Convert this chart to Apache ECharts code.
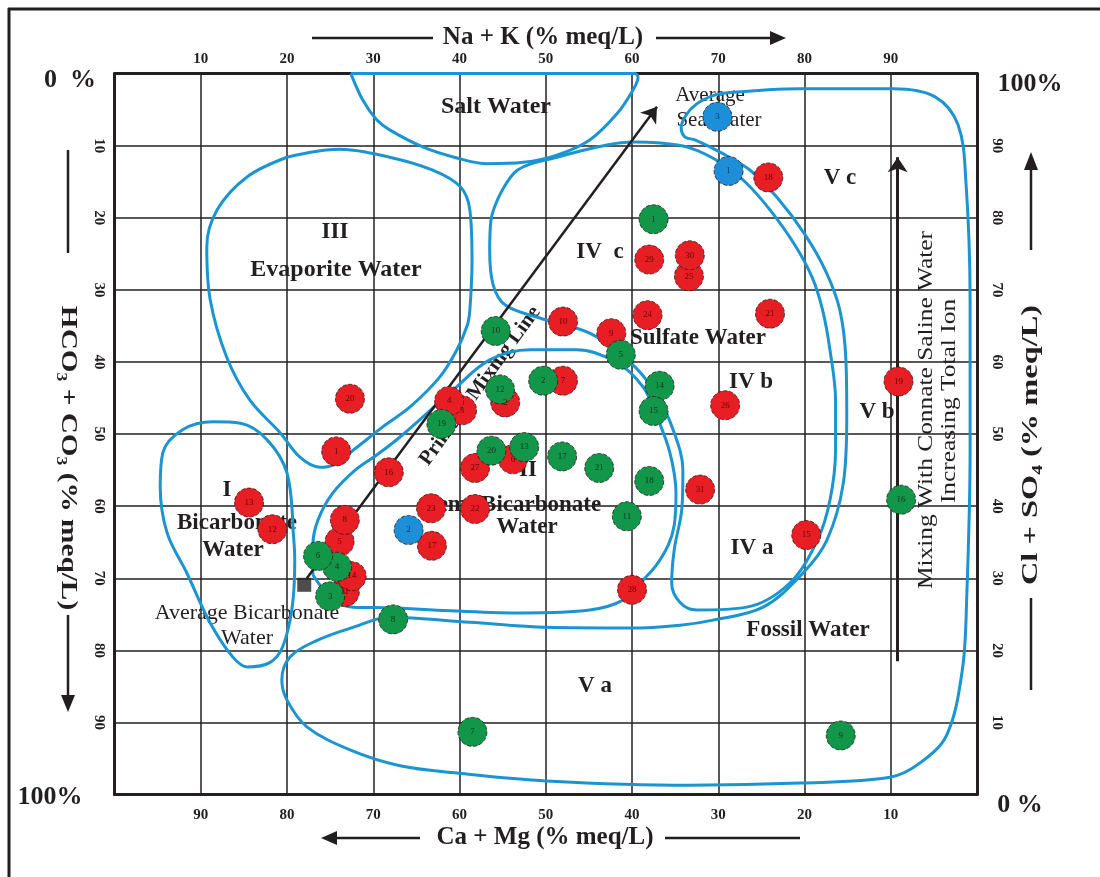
<!DOCTYPE html>
<html><head><meta charset="utf-8">
<script src="https://cdn.jsdelivr.net/npm/echarts@6/dist/echarts.min.js"></script>
<style>html,body{margin:0;padding:0;background:#fff}#c{width:1100px;height:877px}</style>
</head><body><div id="c"></div>
<script>
// ---------- tick labels ----------
const naKTicks = [10,20,30,40,50,60,70,80,90];       // top axis (Na+K)
const caMgTicks = [90,80,70,60,50,40,30,20,10];      // bottom axis (Ca+Mg = 100 - Na+K)
const hco3Ticks = [10,20,30,40,50,60,70,80,90];      // left axis (HCO3+CO3)
const clso4Ticks = [90,80,70,60,50,40,30,20,10];     // right axis (Cl+SO4)

// ---------- samples: [Na+K %, HCO3+CO3 %, sample no.] ----------
const redSamples = [
 [25.7,52.4,1],[45.3,45.6,2],[40.3,46.7,3],[38.8,45.4,4],[26.1,64.9,5],[46.2,53.5,6],
 [52.0,42.6,7],[26.7,61.9,8],[57.6,36.0,9],[52.0,34.4,10],[26.7,71.9,11],[18.3,63.2,12],
 [15.6,59.5,13],[27.5,69.7,14],[80.2,64.0,15],[31.8,55.3,16],[36.8,65.5,17],[75.8,14.4,18],
 [90.9,42.7,19],[27.3,45.1,20],[76.0,33.3,21],[41.8,60.4,22],[36.7,60.3,23],[61.8,33.5,24],
 [66.6,28.1,25],[70.8,46.0,26],[41.8,54.7,27],[60.0,71.6,28],[62.0,25.8,29],[66.7,25.2,30],
 [67.9,57.7,31]
];
const greenSamples = [
 [62.5,20.2,1],[49.7,42.6,2],[25.0,72.5,3],[25.8,68.4,4],[58.7,39.0,5],[23.6,66.9,6],
 [41.5,91.3,7],[32.3,75.7,8],[84.2,91.8,9],[44.2,35.7,10],[59.4,61.4,11],[44.7,43.8,12],
 [47.5,51.8,13],[63.2,43.3,14],[62.5,46.8,15],[91.2,59.1,16],[51.9,53.1,17],[62.0,56.5,18],
 [37.9,48.6,19],[43.7,52.3,20],[56.2,54.7,21]
];
const blueSamples = [[71.2,13.5,1],[34.1,63.3,2],[69.9,6.0,3]];
const avgBicarbonate = [[22.0,70.9]];
const mixingLine = [[22.3,70.0],[62.9,4.6]];
const connateArrow = [[90.8,81.5],[90.8,11.6]];

// ---------- region boundaries (data space) ----------
const saltWater = [[27.4,0],[28.8,3.7],[30.4,6.4],[31.9,7.8],[35.8,10.2],[39.7,11.7],[43.2,12.5],[47.4,12.3],[51.3,11.3],[55.1,9.2],[58.3,5.5],[60.1,2.3],[60.7,0.5],[60.35,0],[44,0],[27.4,0]];
const evaporiteIII = [[20.0,11.6],[26.1,10.5],[31.9,11.6],[36.9,13.4],[40.1,15.7],[41.2,18.9],[41.45,25.9],[41.2,32.8],[40.9,34.9],[39.7,38.3],[37.7,42.1],[34.3,46.2],[31.1,49.0],[27.7,52.2],[25.3,54.3],[23.8,54.6],[21.5,53.2],[19.2,49.8],[15.7,45.3],[13.0,39.3],[11.1,31.4],[10.7,24.1],[11.9,18.9],[15.4,14.3],[20.0,11.6]];
const bicarbonateI = [[20.7,63.3],[20.0,55.4],[17.7,50.8],[14.6,48.5],[11.4,48.3],[7.9,49.4],[5.6,52.6],[5.3,57.3],[6.1,63.7],[8.4,69.3],[11.1,76.2],[13.7,80.9],[15.4,82.3],[18.0,81.7],[19.5,79.5],[20.6,74.0],[20.9,67.5],[20.7,63.3]];
const semiBicarbII = [[23.0,69.5],[23.0,65.4],[23.6,61.9],[25.3,58.2],[27.9,55.0],[30.4,52.9],[33.1,50.4],[39.25,43.9],[43.5,39.7],[48.2,38.3],[53.6,38.3],[58.3,40.1],[61.3,43.5],[62.9,47.6],[64.4,52.6],[65.1,58.2],[64.9,62.6],[64.2,65.4],[62.8,68.2],[61.3,70.2],[59.0,73.0],[55.1,74.4],[47.4,74.8],[38.9,74.5],[31.9,74.1],[27.7,74.0],[25.3,73.0],[23.8,70.9],[23.0,69.5]];
const sulfateIV = [[44.4,17.5],[46.7,13.4],[51.3,11.6],[57.1,9.9],[60.2,9.5],[62.9,9.6],[66.7,10.3],[70.2,12.3],[73.1,15.0],[76.0,18.9],[78.9,23.8],[80.9,28.3],[82.1,32.8],[82.95,38.3],[83.6,45.3],[83.6,52.2],[82.96,59.1],[81.5,64.7],[78.3,70.65],[73.3,74.0],[67.5,74.4],[65.6,73.4],[64.6,70.7],[64.9,66.0],[65.8,60.1],[65.9,55.0],[64.8,49.5],[62.6,44.0],[59.4,39.6],[55.1,36.0],[49.3,33.9],[45.3,32.1],[43.9,29.3],[43.5,24.5],[43.65,20.3],[44.4,17.5]];
const fossilV = [[70.8,2.7],[79.5,2.1],[90.3,2.1],[95.1,3.2],[97.8,7.1],[98.7,14.7],[99.2,31.4],[99.2,52.2],[98.8,73.0],[98.3,82.7],[96.5,91.7],[93.4,95.6],[89.9,97.6],[79.5,98.4],[66.7,98.7],[50.1,98.1],[39.7,97.0],[33.1,96.0],[27.3,93.8],[22.3,90.6],[20.0,86.9],[19.4,84.1],[20.35,80.9],[23.5,78.6],[27.65,76.8],[31.9,75.4],[41.2,76.1],[50.1,76.8],[59.8,76.9],[65.6,76.5],[69.4,75.8],[75.2,74.0],[79.8,69.3],[82.6,64.7],[84.5,56.8],[84.9,47.6],[84.8,39.7],[84.1,32.8],[82.5,27.5],[80.1,22.4],[76.9,17.3],[73.7,13.4],[70.2,10.9],[67.3,9.2],[66.15,8.8],[65.7,7.5],[66.3,5.7],[67.5,4.2],[69.3,3.1],[70.8,2.7]];

const INK = '#231f20', BLUE = '#1b94d2';
const SERIF = '"Liberation Serif","Times New Roman",serif';

const chart = echarts.init(document.getElementById('c'), null, {renderer:'canvas'});

function contour(name, data){
  return {name, type:'line', data, xAxisIndex:0, yAxisIndex:0, smooth:0.35, showSymbol:false, symbol:'none',
    lineStyle:{color:BLUE, width:3}, z:3, silent:true, clip:false};
}
function samples(name, data, color, txt){
  return {name, type:'scatter', data, xAxisIndex:0, yAxisIndex:0, symbol:'circle', symbolSize:29, z:6,
    itemStyle:{color, borderColor:'rgba(40,20,20,0.75)', borderWidth:1, borderType:'dashed', opacity:1},
    label:{show:true, position:'inside', formatter:p=>String(p.data[2]), fontSize:9, fontFamily:SERIF, color:txt}};
}
const tickLabel = (arr)=> (v)=> arr.includes(Math.round(v)) ? String(Math.round(v)) : '';
const lblStyle = {color:INK, fontFamily:SERIF, fontWeight:'bold', fontSize:15};

function T(x,y,text,font,rot,sx){
  return {type:'text', x, y, rotation:rot||0, scaleX:sx||1, scaleY:1, z:1,
    style:{text, font:font||('bold 23px '+SERIF), fill:INK, textAlign:'center', textVerticalAlign:'middle', align:'center', verticalAlign:'middle'}};
}
function L(x1,y1,x2,y2,w){ return {type:'line', shape:{x1,y1,x2,y2}, style:{stroke:INK, lineWidth:w||3}, z:1}; }
function P(points){ return {type:'polygon', shape:{points}, style:{fill:INK}, z:1}; }

const option = {
  backgroundColor:'#fff',
  animation:false,
  grid:{left:114.5, top:73.6, width:862.5, height:721, containLabel:false},
  xAxis:[
    {type:'value', position:'top', min:0, max:100, interval:10,
     axisLine:{show:true, lineStyle:{color:INK, width:3}}, axisTick:{show:false},
     splitLine:{show:true, lineStyle:{color:INK, width:1.5}},
     axisLabel:Object.assign({formatter:tickLabel(naKTicks), margin:7}, lblStyle)},
    {type:'value', position:'bottom', min:0, max:100, interval:10, inverse:true,
     axisLine:{show:true, lineStyle:{color:INK, width:3}}, axisTick:{show:false}, splitLine:{show:false},
     axisLabel:{show:false}}
  ],
  yAxis:[
    {type:'value', position:'left', min:0, max:100, interval:10, inverse:true,
     axisLine:{show:true, lineStyle:{color:INK, width:3}}, axisTick:{show:false},
     splitLine:{show:true, lineStyle:{color:INK, width:1.5}},
     axisLabel:Object.assign({formatter:tickLabel(hco3Ticks), rotate:-90, margin:8}, lblStyle)},
    {type:'value', position:'right', min:0, max:100, interval:10,
     axisLine:{show:true, lineStyle:{color:INK, width:3}}, axisTick:{show:false}, splitLine:{show:false},
     axisLabel:Object.assign({formatter:tickLabel(clso4Ticks), rotate:-90, margin:12}, lblStyle)}
  ],
  series:[
    contour('Salt Water', saltWater),
    contour('III Evaporite', evaporiteIII),
    contour('I Bicarbonate', bicarbonateI),
    contour('II Semi-Bicarbonate', semiBicarbII),
    contour('IV Sulfate', sulfateIV),
    contour('V Fossil', fossilV),
    {type:'lines', coordinateSystem:'cartesian2d', xAxisIndex:0, yAxisIndex:0, z:4, silent:true,
     symbol:['none','arrow'], symbolSize:15,
     lineStyle:{color:INK, width:2.5, opacity:1},
     data:[{coords:mixingLine},{coords:connateArrow, lineStyle:{width:3}}]},
    {type:'scatter', data:avgBicarbonate, symbol:'rect', symbolSize:14, itemStyle:{color:INK}, z:5},
    samples('Red', redSamples, '#e81e25', '#6b0000'),
    samples('Green', greenSamples, '#11964a', '#063a1c'),
    samples('Blue', blueSamples, '#1d8fd8', '#08335a')
  ],
  graphic:[]
};
chart.setOption(option);

const g = [];
// bottom axis labels (Ca+Mg) placed at the converted tick positions
caMgTicks.forEach(v=>{
  const p = chart.convertToPixel({xAxisIndex:1, yAxisIndex:0}, [v, 100]);
  g.push(T(p[0], 815, String(v), 'bold 15px '+SERIF));
});
// frame
g.push(L(8,9,1100,9,3), L(9,8,9,877,3));
// corner labels
g.push(T(70,80,'0  %','bold 26px '+SERIF), T(1030,84,'100%','bold 26px '+SERIF),
       T(50,797,'100%','bold 26px '+SERIF), T(1020,805,'0 %','bold 26px '+SERIF));
// axis titles
g.push(T(543,38,'Na + K (% meq/L)','bold 25px '+SERIF), L(312,38,433,38,2.5), L(656,38,772,38,2.5), P([[770,31],[786,38],[770,45]]));
g.push(T(545,838,'Ca + Mg (% meq/L)','bold 25px '+SERIF), L(335,838,420,838,2.5), P([[337,831],[321,838],[337,845]]), L(665,838,800,838,2.5));
g.push(T(68,458,'HCO\u2083 + CO\u2083 (% meq/L)','bold 24px '+SERIF,-Math.PI/2,1.22), L(68,150,68,253,2.5), L(68,615,68,697,2.5), P([[61,695],[68,712],[75,695]]));
g.push(T(1031,445,'Cl + SO\u2084 (% meq/L)','bold 24px '+SERIF,Math.PI/2,1.35), L(1031,250,1031,168,2.5), P([[1024,170],[1031,152],[1038,170]]), L(1031,598,1031,690,2.5));
// region labels
g.push(T(496,107,'Salt Water','bold 24px '+SERIF), T(335,232,'III'), T(336,270,'Evaporite Water','bold 24px '+SERIF),
       T(600,252,'IV  c'), T(698,338,'Sulfate Water'), T(751,382,'IV b'), T(840,178,'V c'), T(877,412,'V b'),
       T(528,470,'II'), T(513,505,'Semi-Bicarbonate'), T(527,527,'Water'),
       T(227,490,'I'), T(237,523,'Bicarbonate'), T(233,550,'Water'),
       T(752,548,'IV a'), T(808,630,'Fossil Water'), T(595,686,'V a'));
g.push(T(247,613,'Average Bicarbonate','22px '+SERIF), T(247,638,'Water','22px '+SERIF));
g.push(T(710,95,'Average','21px '+SERIF), T(719,120,'Sea Water','21px '+SERIF));
g.push(T(480,386,'Primary Mixing Line','bold 21px '+SERIF, 54*Math.PI/180));
g.push(T(927,410,'Mixing With Connate Saline Water','20px '+SERIF, Math.PI/2, 1.27),
       T(950,401,'Increasing Total Ion','20px '+SERIF, Math.PI/2, 1.27));
chart.setOption({graphic:g});
</script></body></html>
